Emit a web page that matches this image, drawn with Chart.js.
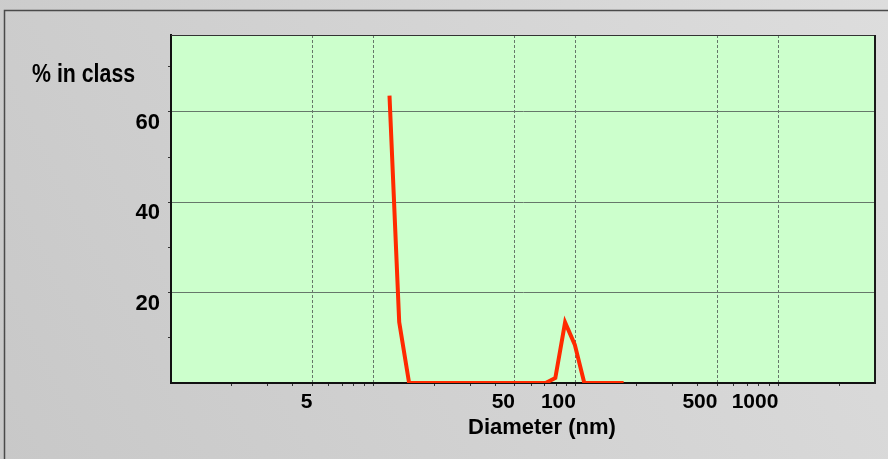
<!DOCTYPE html>
<html>
<head>
<meta charset="utf-8">
<script src="https://cdn.jsdelivr.net/npm/chart.js@4/dist/chart.umd.min.js"></script>
<style>
  html, body { margin: 0; padding: 0; background: #d3d3d3; }
  canvas { display: block; }
</style>
</head>
<body>
<canvas id="psd" width="888" height="459"></canvas>
<script>
// Particle size distribution: diameter bins (nm) and share of particles in each bin (%)
const diameterNm = [12.0, 13.4, 15.0, 16.8, 18.7, 20.9, 23.4, 26.1, 29.2, 32.6, 36.4, 40.7, 45.5,
                    50.8, 56.7, 63.4, 70.8, 79.1, 88.4, 98.7, 110, 123, 138, 154, 172];
const percentInClass = [63.6, 13.5, 0, 0, 0, 0, 0, 0, 0, 0, 0, 0, 0,
                        0, 0, 0, 0, 1.1, 13.4, 8.5, 0, 0, 0, 0, 0];

// Axis ticks
const xTickValues = [1, 2, 3, 4, 5, 6, 7, 8, 9, 10, 20, 30, 40, 50, 60, 70, 80, 90,
                     100, 200, 300, 400, 500, 600, 700, 800, 900, 1000, 2000, 3000];
const xLabelled = [5, 50, 100, 500, 1000];
const xGridValues = [5, 10, 50, 100, 500, 1000];
const yTickValues = [0, 10, 20, 30, 40, 50, 60, 70];
const yLabelled = [20, 40, 60];

const SANS = "'Liberation Sans', Arial, sans-serif";
const GRID = '#66776a';

const frame = {
  id: 'frame',
  beforeDraw(chart) {
    const { ctx, width, height, chartArea: a } = chart;
    ctx.save();
    const g = ctx.createLinearGradient(0, height, width, 0);
    g.addColorStop(0, '#c8c8c8');
    g.addColorStop(1, '#dddddd');
    ctx.fillStyle = g;
    ctx.fillRect(0, 0, width, height);
    ctx.strokeStyle = '#4a4a4a';
    ctx.lineWidth = 1.5;
    ctx.strokeRect(4.5, 10.5, width + 20, height + 20);
    ctx.fillStyle = '#ccffcc';
    ctx.fillRect(a.left, a.top, a.right - a.left, a.bottom - a.top);
    ctx.restore();
  },
  afterDraw(chart) {
    const { ctx, chartArea: a } = chart;
    ctx.save();
    ctx.strokeStyle = '#333333';
    ctx.lineWidth = 1.2;
    ctx.beginPath();
    ctx.moveTo(a.left, a.top + 0.5);
    ctx.lineTo(a.right, a.top + 0.5);
    ctx.stroke();
    ctx.strokeStyle = '#1a1a1a';
    ctx.lineWidth = 2;
    ctx.beginPath();
    ctx.moveTo(a.right, a.top);
    ctx.lineTo(a.right, a.bottom + 1);
    ctx.stroke();
    // axis titles
    ctx.fillStyle = '#000';
    ctx.textBaseline = 'alphabetic';
    ctx.textAlign = 'left';
    ctx.save();
    ctx.translate(32, 81.5);
    ctx.scale(0.82, 1);
    ctx.font = 'bold 26px ' + SANS;
    ctx.fillText('% in class', 0, 0);
    ctx.restore();
    ctx.font = 'bold 22px ' + SANS;
    ctx.fillText('Diameter (nm)', 468, 434);
    ctx.restore();
  }
};

new Chart(document.getElementById('psd'), {
  type: 'line',
  data: {
    datasets: [{
      data: diameterNm.map((d, i) => ({ x: d, y: percentInClass[i] })),
      borderColor: '#ff2a00',
      borderWidth: 4,
      pointRadius: 0,
      tension: 0,
      fill: false
    }]
  },
  options: {
    responsive: false,
    devicePixelRatio: 1,
    animation: false,
    events: [],
    layout: { padding: { top: 35, right: 13, left: 0, bottom: 0 } },
    plugins: { legend: { display: false }, tooltip: { enabled: false } },
    scales: {
      x: {
        type: 'logarithmic',
        min: 1,
        max: 3000,
        afterBuildTicks: s => { s.ticks = xTickValues.map(v => ({ value: v })); },
        afterFit: s => { s.height = 76; },
        ticks: {
          autoSkip: false,
          maxRotation: 0,
          align: 'end',
          padding: 4,
          color: '#000',
          font: { family: SANS, size: 21, weight: 'bold' },
          callback: v => (xLabelled.includes(v) ? String(v) : '')
        },
        grid: {
          color: c => (c.tick && xGridValues.includes(c.tick.value) ? GRID : 'rgba(0,0,0,0)'),
          lineWidth: 1,
          tickLength: 3,
          tickColor: c => (c.tick && c.tick.value > 1 && c.tick.value < 3000 ? '#333' : 'rgba(0,0,0,0)')
        },
        border: { color: '#111', width: 2, dash: [3, 2] }
      },
      y: {
        min: 0,
        max: 77,
        afterBuildTicks: s => { s.ticks = yTickValues.map(v => ({ value: v })); },
        afterFit: s => { s.width = 171; },
        ticks: {
          align: 'start',
          padding: 8,
          color: '#000',
          font: { family: SANS, size: 22, weight: 'bold' },
          callback: v => (yLabelled.includes(v) ? String(v) : '')
        },
        grid: {
          color: c => (c.tick && yLabelled.includes(c.tick.value) ? GRID : 'rgba(0,0,0,0)'),
          lineWidth: 1,
          tickLength: 3,
          tickColor: c => (c.tick && c.tick.value > 0 ? '#333' : 'rgba(0,0,0,0)')
        },
        border: { color: '#111', width: 2 }
      }
    }
  },
  plugins: [frame]
});
</script>
</body>
</html>
